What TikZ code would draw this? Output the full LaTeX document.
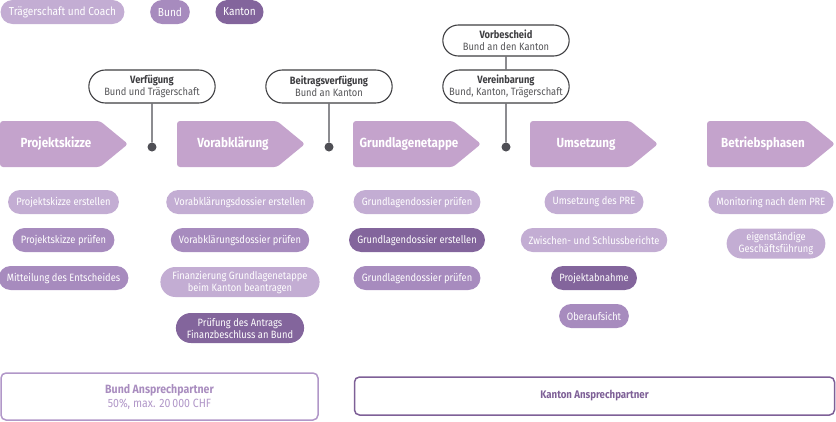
\documentclass[tikz,border=0pt]{standalone}
\usepackage{fontspec}
\setmainfont{Fira Sans}[FakeStretch=0.88]
\usetikzlibrary{shapes.misc}
\definecolor{clight}{HTML}{C3ADD3}
\definecolor{cmid}{HTML}{A78BBE}
\definecolor{cdark}{HTML}{83659C}
\definecolor{cphase}{HTML}{C4A3CC}
\definecolor{cline}{HTML}{4F4F55}
\definecolor{cbox}{HTML}{3F3F42}
\definecolor{csub}{HTML}{555558}
\definecolor{cbund}{HTML}{B197C8}
\definecolor{cbundtxt}{HTML}{A98DBF}
\definecolor{ckanton}{HTML}{7E6097}
\tikzset{
  pill/.style={rounded rectangle, text=white, inner xsep=7pt, inner ysep=0pt,
    minimum height=24pt, align=center, font=\fontsize{10.6}{12}\selectfont},
  pilltwo/.style={pill, minimum height=30pt},
  lightpill/.style={pill, fill=clight},
  midpill/.style={pill, fill=cmid},
  darkpill/.style={pill, fill=cdark},
  legend/.style={rounded rectangle, text=white, inner xsep=7pt, inner ysep=0pt,
    minimum height=24pt, font=\fontsize{11.5}{13}\selectfont},
  phase/.style={fill=cphase, rounded corners=3pt},
  phasetext/.style={text=white, font=\bfseries\fontsize{13.2}{15}\selectfont},
  dot/.style={circle, fill=cline, minimum size=9pt, inner sep=0pt},
  decision/.style={rounded rectangle, draw=cbox, line width=1.1pt, fill=white,
    minimum width=133pt, minimum height=33pt, inner ysep=0pt, align=center,
    font=\fontsize{10.6}{12}\selectfont},
  conn/.style={draw=cline, line width=1.3pt},
}
\newcommand{\dtitle}[1]{{\bfseries\color{cbox}#1}}
\newcommand{\dsub}[1]{{\color{csub}#1}}
\begin{document}
\begin{tikzpicture}[x=1pt,y=-1pt]
\useasboundingbox (0,0) rectangle (836,421);
% legend
\node[legend, fill=clight] (lt) at (62.5,12) {Trägerschaft und Coach};
\node[legend, fill=cmid] (lb) at (170,12) {Bund};
\node[legend, fill=cdark] (lk) at (239.5,12) {Kanton};
% phases
\foreach \x/\n/\t in {0/p1/Projektskizze, 177/p2/Vorabklärung, 353/p3/Grundlagenetappe, 530/p4/Umsetzung, 707/p5/Betriebsphasen}{
  \fill[phase] (\x,121) -- (\x+100,121) -- (\x+128,144) -- (\x+100,167) -- (\x,167) -- cycle;
  \node[phasetext] (\n) at (\x+56,144) {\t};
}
% dots
\node[dot] (d1) at (152,147) {};
\node[dot] (d2) at (329,147) {};
\node[dot] (d3) at (506,147) {};
% decision boxes
\node[decision] (v1) at (152,86.5) {\dtitle{Verfügung}\\\dsub{Bund und Trägerschaft}};
\node[decision] (v2) at (329,86.5) {\dtitle{Beitragsverfügung}\\\dsub{Bund an Kanton}};
\node[decision] (v3) at (506,86.5) {\dtitle{Vereinbarung}\\\dsub{Bund, Kanton, Trägerschaft}};
\node[decision, minimum height=31pt] (v4) at (506,40.5) {\dtitle{Vorbescheid}\\\dsub{Bund an den Kanton}};
\draw[conn] (v1) -- (d1);
\draw[conn] (v2) -- (d2);
\draw[conn] (v3) -- (d3);
\draw[conn] (v4) -- (v3);
% column 1
\node[lightpill] (a1) at (63.5,202) {Projektskizze erstellen};
\node[midpill] (a2) at (63.5,240) {Projektskizze prüfen};
\node[midpill] (a3) at (63.5,278) {Mitteilung des Entscheides};
% column 2
\node[lightpill] (b1) at (240,202) {Vorabklärungsdossier erstellen};
\node[midpill] (b2) at (240,240) {Vorabklärungsdossier prüfen};
\node[lightpill, pilltwo, fill=clight] (b3) at (240,282) {Finanzierung Grundlagenetappe\\beim Kanton beantragen};
\node[darkpill, pilltwo, fill=cdark] (b4) at (240,328) {Prüfung des Antrags\\Finanzbeschluss an Bund};
% column 3
\node[lightpill] (c1) at (417,202) {Grundlagendossier prüfen};
\node[darkpill] (c2) at (417,240) {Grundlagendossier erstellen};
\node[midpill] (c3) at (417,278) {Grundlagendossier prüfen};
% column 4
\node[lightpill] (e1) at (594,202) {Umsetzung des PRE};
\node[lightpill] (e2) at (594,240) {Zwischen- und Schlussberichte};
\node[darkpill] (e3) at (594,278) {Projektabnahme};
\node[midpill] (e4) at (594,316) {Oberaufsicht};
% column 5
\node[lightpill] (f1) at (771,202) {Monitoring nach dem PRE};
\node[lightpill, pilltwo, fill=clight] (f2) at (776,243.5) {eigenständige\\Geschäftsführung};
% bottom boxes
\node[draw=cbund, line width=1.5pt, rounded corners=5pt, minimum width=317pt,
  minimum height=47pt, align=center, font=\fontsize{12}{14}\selectfont]
  (bb) at (159.5,396.5) {{\bfseries\color{cbundtxt}Bund Ansprechpartner}\\{\color{cbund}50\%, max. 20\,000 CHF}};
\node[draw=ckanton, line width=1.5pt, rounded corners=5pt, minimum width=480pt,
  minimum height=38pt, font=\bfseries\fontsize{11}{13}\selectfont, text=ckanton]
  (kb) at (594.5,396) {Kanton Ansprechpartner};
\end{tikzpicture}
\end{document}
